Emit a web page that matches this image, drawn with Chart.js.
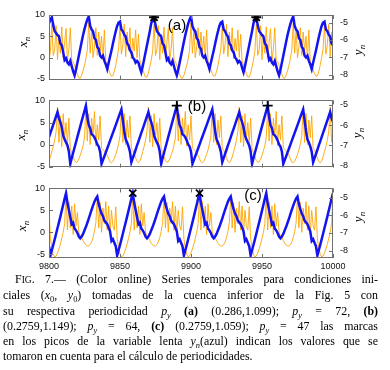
<!DOCTYPE html>
<html><head><meta charset="utf-8">
<script src="https://cdn.jsdelivr.net/npm/chart.js@4/dist/chart.umd.min.js"></script>
<style>
html,body{margin:0;padding:0;background:#fff;}
body{width:390px;height:370px;position:relative;overflow:hidden;}
canvas{position:absolute;left:0;}
.lab{position:absolute;font-family:"Liberation Serif",serif;font-style:italic;font-size:13px;white-space:nowrap;transform:translate(-50%,-50%) rotate(-90deg);line-height:1;}
.lab sub{font-size:9px;line-height:0;}
.pl{position:absolute;font-family:"Liberation Sans",Arial,sans-serif;font-size:15px;transform:translate(-50%,-50%);line-height:1;}
#cap{position:absolute;left:3px;top:272px;width:375px;font-family:"Liberation Serif",serif;font-size:11.9px;line-height:15.3px;color:#000;}
#cap div{text-align:justify;text-align-last:justify;white-space:nowrap;}
#cap div.last{text-align-last:left;}
#cap sub{font-size:70%;line-height:0;}
.sc{font-size:80%;}
</style></head>
<body>
<canvas id="ca" width="390" height="92" style="top:0px"></canvas>
<canvas id="cb" width="390" height="92" style="top:88px"></canvas>
<canvas id="cc" width="390" height="100" style="top:176px"></canvas>

<div class="lab" style="left:22px;top:42px">x<sub>n</sub></div>
<div class="lab" style="left:20px;top:135px">x<sub>n</sub></div>
<div class="lab" style="left:21px;top:226px">x<sub>n</sub></div>
<div class="lab" style="left:357px;top:50px">y<sub>n</sub></div>
<div class="lab" style="left:356px;top:133px">y<sub>n</sub></div>
<div class="lab" style="left:357px;top:217px">y<sub>n</sub></div>
<div class="pl" style="left:177px;top:24px">(a)</div>
<div class="pl" style="left:197px;top:105px">(b)</div>
<div class="pl" style="left:253px;top:194px">(c)</div>

<div id="cap">
<div style="padding-left:12px">F<span class="sc">IG</span>. 7.— (Color online) Series temporales para condiciones ini-</div>
<div>ciales (<i>x</i><sub>0</sub>, <i>y</i><sub>0</sub>) tomadas de la cuenca inferior de la Fig. 5 con</div>
<div>su respectiva periodicidad <i>p<sub>y</sub></i> <b>(a)</b> (0.286,1.099); <i>p<sub>y</sub></i> = 72, <b>(b)</b></div>
<div>(0.2759,1.149); <i>p<sub>y</sub></i> = 64, <b>(c)</b> (0.2759,1.059); <i>p<sub>y</sub></i> = 47 las marcas</div>
<div>en los picos de la variable lenta <i>y<sub>n</sub></i>(azul) indican los valores que se</div>
<div class="last">tomaron en cuenta para el cálculo de periodicidades.</div>
</div>

<script>
// ---- data ----
const startStep = 9800;
const xTicks = [9800, 9850, 9900, 9950, 10000];
const xnTicks = [-5, 0, 5, 10];
const ynTicks = [-8, -7, -6, -5];

// panel (a): slow variable y_n (blue) and fast variable x_n (orange), steps 9800..10000
const ynA = [
-5.05,-4.8,-4.7,-5.15,-5.5,-5.6,-5.72,-5.8,-6.2,-6.3,
-6.7,-7.15,-7.05,-7.3,-7.4,-7.2,-7.5,-7.8,-8.03,-7.7,
-7.3,-6.9,-6.5,-6.1,-5.72,-5.38,-5.08,-4.82,-4.65,-5.2,
-5.4,-5.5,-5.9,-6,-6.4,-6.5,-6.9,-7,-6.9,-7.2,
-7.4,-7.67,-7.3,-6.95,-6.6,-6.22,-5.85,-5.5,-5.2,-5,
-4.95,-5.4,-5.5,-5.7,-5.8,-6.2,-6.3,-6.6,-6.7,-7,
-7.1,-7.3,-7.2,-7.3,-7.6,-7.85,-7.5,-7.1,-6.7,-6.3,
-5.9,-5.5,
-5.05,-4.8,-4.7,-5.15,-5.5,-5.6,-5.72,-5.8,-6.2,-6.3,
-6.7,-7.15,-7.05,-7.3,-7.4,-7.2,-7.5,-7.8,-8.03,-7.7,
-7.3,-6.9,-6.5,-6.1,-5.72,-5.38,-5.08,-4.82,-4.65,-5.2,
-5.4,-5.5,-5.9,-6,-6.4,-6.5,-6.9,-7,-6.9,-7.2,
-7.4,-7.67,-7.3,-6.95,-6.6,-6.22,-5.85,-5.5,-5.2,-5,
-4.95,-5.4,-5.5,-5.7,-5.8,-6.2,-6.3,-6.6,-6.7,-7,
-7.1,-7.3,-7.2,-7.3,-7.6,-7.85,-7.5,-7.1,-6.7,-6.3,
-5.9,-5.5,
-5.05,-4.8,-4.7,-5.15,-5.5,-5.6,-5.72,-5.8,-6.2,-6.3,
-6.7,-7.15,-7.05,-7.3,-7.4,-7.2,-7.5,-7.8,-8.03,-7.7,
-7.3,-6.9,-6.5,-6.1,-5.72,-5.38,-5.08,-4.82,-4.65,-5.2,
-5.4,-5.5,-5.9,-6,-6.4,-6.5,-6.9,-7,-6.9,-7.2,
-7.4,-7.67,-7.3,-6.95,-6.6,-6.22,-5.85,-5.5,-5.2,-5,
-4.95,-5.4,-5.5,-5.7,-5.8,-6.2,-6.3
];
const xnA = [
-0.6,1.5,7.8,0.5,1.8,7.5,-0.5,5.5,1,7.2,
0,3.5,6.8,-0.8,2,7,-0.8,-1,-1.8,-2.9,
-4,-4.8,-4.9,-4.2,-3.1,-1.8,-0.3,1.8,8.2,1,
6.5,0,2.5,7,0.5,6,1.5,5,-0.5,6.5,
-1,-1.6,-2.8,-3.8,-4.4,-4.3,-3.3,-1.8,0,2,
7.5,0.8,3,7.8,0.2,6,1.8,7,-0.3,4.5,
1.5,6.5,0,5.5,-0.8,-1.7,-2.8,-3.8,-4.6,-4.6,
-3.7,-2.2,
-0.6,1.5,7.8,0.5,1.8,7.5,-0.5,5.5,1,7.2,
0,3.5,6.8,-0.8,2,7,-0.8,-1,-1.8,-2.9,
-4,-4.8,-4.9,-4.2,-3.1,-1.8,-0.3,1.8,8.2,1,
6.5,0,2.5,7,0.5,6,1.5,5,-0.5,6.5,
-1,-1.6,-2.8,-3.8,-4.4,-4.3,-3.3,-1.8,0,2,
7.5,0.8,3,7.8,0.2,6,1.8,7,-0.3,4.5,
1.5,6.5,0,5.5,-0.8,-1.7,-2.8,-3.8,-4.6,-4.6,
-3.7,-2.2,
-0.6,1.5,7.8,0.5,1.8,7.5,-0.5,5.5,1,7.2,
0,3.5,6.8,-0.8,2,7,-0.8,-1,-1.8,-2.9,
-4,-4.8,-4.9,-4.2,-3.1,-1.8,-0.3,1.8,8.2,1,
6.5,0,2.5,7,0.5,6,1.5,5,-0.5,6.5,
-1,-1.6,-2.8,-3.8,-4.4,-4.3,-3.3,-1.8,0,2,
7.5,0.8,3,7.8,0.2,6,1.8
];
const marksA = [9874, 9946];

// panel (b)
const ynB = [
-6.59,-6.38,-6.18,-5.97,-5.76,-5.56,-5.35,-5.65,-5.85,-6.1,
-6.5,-6.7,-6.85,-7,-7.3,-7.91,-7.62,-7.36,-7.1,-6.84,
-6.58,-6.32,-6.06,-5.8,-5.55,-5.3,-5.04,-5.6,-6,-6.15,
-6.45,-6.5,-6.6,-6.75,-6.95,-7.05,-7.3,-7.91,-7.72,-7.53,
-7.34,-7.15,-6.96,-6.76,-6.57,-6.38,-6.19,-6,-5.8,-5.6,
-5.41,-5.22,-5.75,-6.3,-6.7,-6.85,-7.05,-7.3,-7.83,-7.62,
-7.42,-7.21,-7,-6.8,
-6.59,-6.38,-6.18,-5.97,-5.76,-5.56,-5.35,-5.65,-5.85,-6.1,
-6.5,-6.7,-6.85,-7,-7.3,-7.91,-7.62,-7.36,-7.1,-6.84,
-6.58,-6.32,-6.06,-5.8,-5.55,-5.3,-5.04,-5.6,-6,-6.15,
-6.45,-6.5,-6.6,-6.75,-6.95,-7.05,-7.3,-7.91,-7.72,-7.53,
-7.34,-7.15,-6.96,-6.76,-6.57,-6.38,-6.19,-6,-5.8,-5.6,
-5.41,-5.22,-5.75,-6.3,-6.7,-6.85,-7.05,-7.3,-7.83,-7.62,
-7.42,-7.21,-7,-6.8,
-6.59,-6.38,-6.18,-5.97,-5.76,-5.56,-5.35,-5.65,-5.85,-6.1,
-6.5,-6.7,-6.85,-7,-7.3,-7.91,-7.62,-7.36,-7.1,-6.84,
-6.58,-6.32,-6.06,-5.8,-5.55,-5.3,-5.04,-5.6,-6,-6.15,
-6.45,-6.5,-6.6,-6.75,-6.95,-7.05,-7.3,-7.91,-7.72,-7.53,
-7.34,-7.15,-6.96,-6.76,-6.57,-6.38,-6.19,-6,-5.8,-5.6,
-5.41,-5.22,-5.75,-6.3,-6.7,-6.85,-7.05,-7.3,-7.83,-7.62,
-7.42,-7.21,-7,-6.8,
-6.59,-6.38,-6.18,-5.97,-5.76,-5.56,-5.35,-5.65,-5.85
];
const xnB = [
-3.7,-2.8,-1.6,-0.4,1,3,8.5,0.5,6.5,-0.5,
7,1.5,5,0,6,-1,-1.8,-2.8,-3.6,-4,
-3.9,-3.3,-2.4,-1.4,-0.2,1.5,8.6,0.8,7,0,
6,2,7.5,-0.3,4.5,1,6.5,-0.8,-1.1,-1.4,
-1.8,-2.4,-3.2,-3.9,-4.1,-3.8,-3.1,-2.2,-1.2,0.2,
2,8.3,0.5,7,0,5.5,1.5,6.5,-0.8,-1.3,
-2,-3,-3.8,-4.1,
-3.7,-2.8,-1.6,-0.4,1,3,8.5,0.5,6.5,-0.5,
7,1.5,5,0,6,-1,-1.8,-2.8,-3.6,-4,
-3.9,-3.3,-2.4,-1.4,-0.2,1.5,8.6,0.8,7,0,
6,2,7.5,-0.3,4.5,1,6.5,-0.8,-1.1,-1.4,
-1.8,-2.4,-3.2,-3.9,-4.1,-3.8,-3.1,-2.2,-1.2,0.2,
2,8.3,0.5,7,0,5.5,1.5,6.5,-0.8,-1.3,
-2,-3,-3.8,-4.1,
-3.7,-2.8,-1.6,-0.4,1,3,8.5,0.5,6.5,-0.5,
7,1.5,5,0,6,-1,-1.8,-2.8,-3.6,-4,
-3.9,-3.3,-2.4,-1.4,-0.2,1.5,8.6,0.8,7,0,
6,2,7.5,-0.3,4.5,1,6.5,-0.8,-1.1,-1.4,
-1.8,-2.4,-3.2,-3.9,-4.1,-3.8,-3.1,-2.2,-1.2,0.2,
2,8.3,0.5,7,0,5.5,1.5,6.5,-0.8,-1.3,
-2,-3,-3.8,-4.1,
-3.7,-2.8,-1.6,-0.4,1,3,8.5,0.5,6.5
];
const marksB = [9890, 9954];

// panel (c)
const ynC = [
-7.75,-8.28,-7.98,-7.68,-7.36,-7.04,-6.72,-6.4,-6.07,-5.73,
-5.4,-5.05,-4.74,-5.3,-5.7,-6.1,-6.5,-6.42,-6.75,-6.85,
-7,-7.2,-7.3,-7.2,-7.05,-6.85,-6.65,-6.42,-6.18,-5.93,
-5.68,-5.45,-5.22,-5.05,-4.93,-5.35,-5.65,-5.9,-6.05,-6.3,
-6.4,-6.5,-6.7,-6.9,-7.45,-7.35,-7.55,
-7.75,-8.28,-7.98,-7.68,-7.36,-7.04,-6.72,-6.4,-6.07,-5.73,
-5.4,-5.05,-4.74,-5.3,-5.7,-6.1,-6.5,-6.42,-6.75,-6.85,
-7,-7.2,-7.3,-7.2,-7.05,-6.85,-6.65,-6.42,-6.18,-5.93,
-5.68,-5.45,-5.22,-5.05,-4.93,-5.35,-5.65,-5.9,-6.05,-6.3,
-6.4,-6.5,-6.7,-6.9,-7.45,-7.35,-7.55,
-7.75,-8.28,-7.98,-7.68,-7.36,-7.04,-6.72,-6.4,-6.07,-5.73,
-5.4,-5.05,-4.74,-5.3,-5.7,-6.1,-6.5,-6.42,-6.75,-6.85,
-7,-7.2,-7.3,-7.2,-7.05,-6.85,-6.65,-6.42,-6.18,-5.93,
-5.68,-5.45,-5.22,-5.05,-4.93,-5.35,-5.65,-5.9,-6.05,-6.3,
-6.4,-6.5,-6.7,-6.9,-7.45,-7.35,-7.55,
-7.75,-8.28,-7.98,-7.68,-7.36,-7.04,-6.72,-6.4,-6.07,-5.73,
-5.4,-5.05,-4.74,-5.3,-5.7,-6.1,-6.5,-6.42,-6.75,-6.85,
-7,-7.2,-7.3,-7.2,-7.05,-6.85,-6.65,-6.42,-6.18,-5.93,
-5.68,-5.45,-5.22,-5.05,-4.93,-5.35,-5.65,-5.9,-6.05,-6.3,
-6.4,-6.5,-6.7,-6.9,-7.45,-7.35,-7.55,
-7.75,-8.28,-7.98,-7.68,-7.36,-7.04,-6.72,-6.4,-6.07,-5.73,
-5.4,-5.05,-4.74
];
const xnC = [
5.8,-1.5,-3.5,-5,-5.6,-5.4,-4.7,-3.8,-2.7,-1.4,
0,2,8.5,0.5,7,1,6,-0.5,6.5,1.5,
4.5,0,-0.8,-1.3,-1.9,-2.5,-2.9,-3.1,-3.1,-2.8,
-2.2,-1.2,0.2,2.2,8.3,1,6.8,0,5.5,2,
7,0.5,6,-0.5,5,1.5,0.5,
5.8,-1.5,-3.5,-5,-5.6,-5.4,-4.7,-3.8,-2.7,-1.4,
0,2,8.5,0.5,7,1,6,-0.5,6.5,1.5,
4.5,0,-0.8,-1.3,-1.9,-2.5,-2.9,-3.1,-3.1,-2.8,
-2.2,-1.2,0.2,2.2,8.3,1,6.8,0,5.5,2,
7,0.5,6,-0.5,5,1.5,0.5,
5.8,-1.5,-3.5,-5,-5.6,-5.4,-4.7,-3.8,-2.7,-1.4,
0,2,8.5,0.5,7,1,6,-0.5,6.5,1.5,
4.5,0,-0.8,-1.3,-1.9,-2.5,-2.9,-3.1,-3.1,-2.8,
-2.2,-1.2,0.2,2.2,8.3,1,6.8,0,5.5,2,
7,0.5,6,-0.5,5,1.5,0.5,
5.8,-1.5,-3.5,-5,-5.6,-5.4,-4.7,-3.8,-2.7,-1.4,
0,2,8.5,0.5,7,1,6,-0.5,6.5,1.5,
4.5,0,-0.8,-1.3,-1.9,-2.5,-2.9,-3.1,-3.1,-2.8,
-2.2,-1.2,0.2,2.2,8.3,1,6.8,0,5.5,2,
7,0.5,6,-0.5,5,1.5,0.5,
5.8,-1.5,-3.5,-5,-5.6,-5.4,-4.7,-3.8,-2.7,-1.4,
0,2,8.5
];
const marksC = [9859, 9906];

// ---- drawing ----
Chart.defaults.font.family = '"Liberation Sans", Arial, sans-serif';
const frameColor = '#707070';

const framePlugin = {
  id: 'frame',
  afterDraw(ch) {
    const a = ch.chartArea, ctx = ch.ctx;
    ctx.save();
    ctx.strokeStyle = frameColor;
    ctx.lineWidth = 1;
    ctx.beginPath();
    const L = ch.scales.yL, R = ch.scales.yR, X = ch.scales.x;
    L.ticks.forEach(t => { const y = Math.round(L.getPixelForValue(t.value)) + 0.5; ctx.moveTo(a.left, y); ctx.lineTo(a.left + 4, y); });
    R.ticks.forEach(t => { const y = Math.round(R.getPixelForValue(t.value)) + 0.5; ctx.moveTo(a.right, y); ctx.lineTo(a.right - 4, y); });
    X.ticks.forEach(t => { const x = Math.round(X.getPixelForValue(t.value)) + 0.5; ctx.moveTo(x, a.bottom); ctx.lineTo(x, a.bottom - 4); ctx.moveTo(x, a.top); ctx.lineTo(x, a.top + 4); });
    ctx.stroke();
    ctx.strokeRect(Math.round(a.left) + 0.5, Math.round(a.top) + 0.5, Math.round(a.right - a.left) - 1, Math.round(a.bottom - a.top) - 1);
    ctx.restore();
  }
};

function pts(arr) { return arr.map((v, i) => ({ x: startStep + i, y: v })); }

function makeChart(id, yn, xn, marks, style, c) {
  const markPts = marks.map(s => ({ x: s, y: yn[s - startStep] }));
  const tickFont = { size: 9 };
  const noGrid = { display: false, drawTicks: false, tickLength: 0 };
  new Chart(document.getElementById(id), {
    type: 'line',
    data: {
      datasets: [
        { data: markPts, yAxisID: 'yR', showLine: false, pointStyle: style, pointRadius: 5,
          pointBorderColor: '#000', pointBackgroundColor: '#000', pointBorderWidth: 1.8 },
        { data: pts(yn), yAxisID: 'yR', borderColor: '#1414f0', borderWidth: 2.5, pointRadius: 0, tension: 0 },
        { data: pts(xn), yAxisID: 'yL', borderColor: '#ffa500', borderWidth: 0.9, pointRadius: 0, tension: 0 }
      ]
    },
    options: {
      responsive: false, animation: false, events: [],
      layout: { padding: { top: c.padTop, left: 0, right: 0, bottom: 0 } },
      plugins: { legend: { display: false }, tooltip: { enabled: false } },
      scales: {
        x: { type: 'linear', min: 9800, max: 10000,
             afterBuildTicks: s => { s.ticks = xTicks.map(v => ({ value: v })); },
             ticks: { display: c.showX, font: tickFont, color: '#111', padding: 3, maxRotation: 0, autoSkip: false,
                      callback: v => String(v) },
             grid: noGrid, border: { display: false },
             afterFit: s => { s.height = c.xH; } },
        yL: { position: 'left', min: c.L[0], max: c.L[1],
             afterBuildTicks: s => { s.ticks = xnTicks.map(v => ({ value: v })); },
             ticks: { font: tickFont, color: '#111', padding: 4, callback: v => String(v) },
             grid: noGrid, border: { display: false },
             afterFit: s => { s.width = 49; } },
        yR: { position: 'right', min: c.R[0], max: c.R[1],
             afterBuildTicks: s => { s.ticks = ynTicks.map(v => ({ value: v })); },
             ticks: { font: tickFont, color: '#111', padding: 7, callback: v => String(v) },
             grid: noGrid, border: { display: false },
             afterFit: s => { s.width = 57; } }
      }
    },
    plugins: [framePlugin]
  });
}

makeChart('ca', ynA, xnA, marksA, 'star',     { padTop: 15, xH: 8,  showX: false, L: [-5.2, 10], R: [-8.27, -4.57] });
makeChart('cb', ynB, xnB, marksB, 'cross',    { padTop: 7,  xH: 9,  showX: false, L: [-5.2, 10], R: [-8.09, -4.78] });
makeChart('cc', ynC, xnC, marksC, 'crossRot', { padTop: 7,  xH: 18, showX: true,  L: [-5.85, 10], R: [-8.42, -4.47] });
</script>
</body></html>
